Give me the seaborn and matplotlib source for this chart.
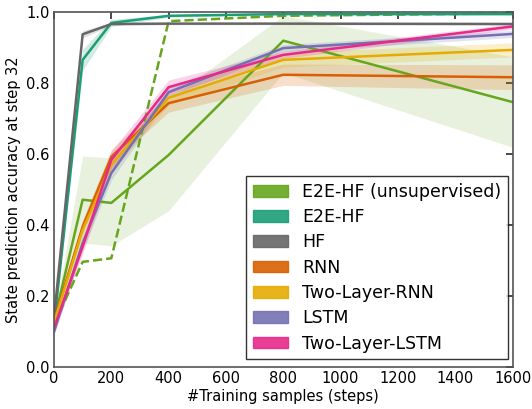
import numpy as np
import pandas as pd
import matplotlib
matplotlib.use("Agg")
import matplotlib.pyplot as plt
import seaborn as sns
from matplotlib.patches import Patch

# numero de amostras de treino
passos = [0, 100, 200, 400, 800, 1600]

# acuracia media por modelo
e2e_unsup = [0.13, 0.472, 0.463, 0.598, 0.92, 0.747]
e2e_unsup_inf = [0.12, 0.35, 0.342, 0.441, 0.83, 0.62]
e2e_unsup_sup = [0.14, 0.595, 0.59, 0.755, 0.99, 0.875]
e2e_unsup_tracejado = [0.12, 0.297, 0.307, 0.975, 0.99, 0.997]

e2e_hf = [0.12, 0.866, 0.97, 0.99, 0.995, 0.995]
e2e_hf_erro = [0.01, 0.03, 0.01, 0.004, 0.003, 0.003]

hf = [0.14, 0.938, 0.967, 0.968, 0.968, 0.967]
hf_erro = [0.01, 0.01, 0.004, 0.003, 0.003, 0.003]

rnn = [0.13, 0.396, 0.593, 0.744, 0.824, 0.817]
rnn_erro = [0.01, 0.02, 0.02, 0.025, 0.03, 0.035]

rnn2 = [0.125, 0.387, 0.57, 0.759, 0.866, 0.894]
rnn2_erro = [0.01, 0.02, 0.02, 0.02, 0.02, 0.02]

lstm = [0.10, 0.35, 0.547, 0.775, 0.899, 0.939]
lstm_erro = [0.01, 0.02, 0.02, 0.015, 0.01, 0.01]

lstm2 = [0.11, 0.34, 0.584, 0.789, 0.88, 0.96]
lstm2_erro = [0.01, 0.02, 0.025, 0.02, 0.01, 0.008]

nomes = ["E2E-HF (unsupervised)", "E2E-HF", "HF", "RNN",
         "Two-Layer-RNN", "LSTM", "Two-Layer-LSTM"]
cores = ["#66a61e", "#1b9e77", "#666666", "#d95f02",
         "#e6ab02", "#7570b3", "#e7298a"]

sns.set_theme(style="white")
plt.rcParams['font.family'] = ['DejaVu Sans']
plt.rcParams['text.color'] = 'black'
plt.rcParams['axes.labelcolor'] = 'black'
plt.rcParams['xtick.color'] = 'black'
plt.rcParams['ytick.color'] = 'black'

fig = plt.figure(figsize=(5.32, 4.09), dpi=100)
ax = fig.add_axes([0.1015, 0.102, 0.862, 0.868])

# banda larga do modelo nao supervisionado
ax.fill_between(passos, e2e_unsup_inf, e2e_unsup_sup, color=cores[0],
                alpha=0.15, linewidth=0)

series = [(e2e_hf, e2e_hf_erro), (hf, hf_erro), (rnn, rnn_erro),
          (rnn2, rnn2_erro), (lstm, lstm_erro), (lstm2, lstm2_erro)]
for (media, erro), cor in zip(series, cores[1:]):
    media = np.array(media)
    erro = np.array(erro)
    ax.fill_between(passos, media - erro, media + erro, color=cor,
                    alpha=0.2, linewidth=0)

sns.lineplot(x=passos, y=e2e_unsup, color=cores[0], linewidth=1.8, ax=ax)
sns.lineplot(x=passos, y=e2e_unsup_tracejado, color=cores[0], linewidth=1.8,
             linestyle="--", ax=ax)
for (media, erro), cor in zip(series, cores[1:]):
    sns.lineplot(x=passos, y=media, color=cor, linewidth=1.8, ax=ax)

ax.set_xlim(0, 1600)
ax.set_ylim(0, 1.0)
ax.set_xticks(range(0, 1601, 200))
ax.set_yticks(np.arange(0, 1.01, 0.2))
ax.set_yticklabels(["0.0", "0.2", "0.4", "0.6", "0.8", "1.0"])
ax.tick_params(direction="in", top=True, right=True, length=5,
               labelsize=10.5, color="#333333", pad=3)
for s in ax.spines.values():
    s.set_color("#555555")
    s.set_linewidth(1.2)
ax.set_xlabel("#Training samples (steps)", fontsize=10.5, labelpad=2)
ax.set_ylabel("State prediction accuracy at step 32", fontsize=10.5, labelpad=4)

alcas = [Patch(facecolor=c, edgecolor=c, alpha=0.9) for c in cores]
leg = ax.legend(alcas, nomes, loc="lower right", fontsize=12.5,
                frameon=True, fancybox=False, handlelength=2.0,
                handleheight=0.66, borderaxespad=0.0, labelspacing=0.42,
                borderpad=0.4, bbox_to_anchor=(0.99, 0.022))
leg.get_frame().set_edgecolor("black")
leg.get_frame().set_linewidth(1.0)

plt.savefig("out.png", dpi=100)
